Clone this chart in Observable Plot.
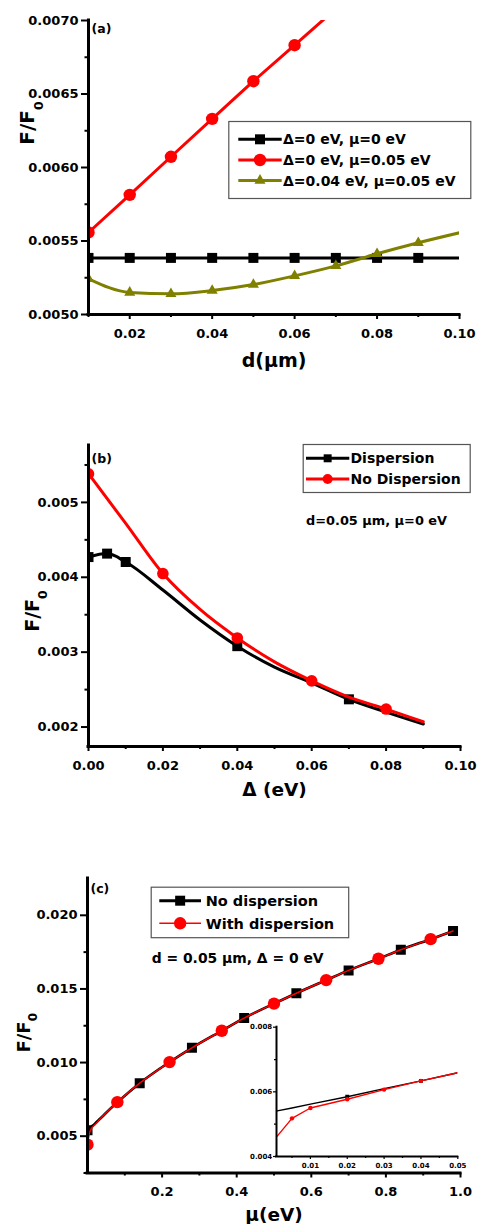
<!DOCTYPE html>
<html><head><meta charset="utf-8">
<script src="https://cdn.jsdelivr.net/npm/d3@7"></script>
<script src="https://cdn.jsdelivr.net/npm/@observablehq/plot@0.6"></script>
<style>
body{margin:0;background:#fff;}
#root{position:relative;width:477px;height:1224px;overflow:hidden;background:#fff;}
</style></head><body><div id="root"></div>
<script>
// ---------- data ----------
// panel (a): F/F0 vs d (um)
const A_D = [0.01,0.02,0.03,0.04,0.05,0.06,0.07,0.08,0.09,0.10];
const A_ZERO_Y = [0.005385,0.005385,0.005385,0.005385,0.005385,0.005385,0.005385,0.005385,0.005385,0.005385];
const A_ZERO_MARK = [0.01,0.02,0.03,0.04,0.05,0.06,0.07,0.08,0.09];
const A_RED_D = [0.01,0.02,0.03,0.04,0.05,0.06,0.07];
const A_RED_Y = [0.005558,0.005814,0.006073,0.006331,0.006587,0.006832,0.00708];
const A_RED_MARK = [0.01,0.02,0.03,0.04,0.05,0.06,0.07];
const A_OLIVE_Y = [0.005243,0.00515,0.005141,0.005163,0.005204,0.005263,0.005331,0.005413,0.005488,0.005556];
const A_OLIVE_MARK = [0.01,0.02,0.03,0.04,0.05,0.06,0.07,0.08,0.09];
const A_LABELS = ["Δ=0 eV, μ=0 eV","Δ=0 eV, μ=0.05 eV","Δ=0.04 eV, μ=0.05 eV"];
const A_X_MAJOR = [0.02,0.04,0.06,0.08,0.10];
const A_X_MINOR = [0.01,0.03,0.05,0.07,0.09];
const A_Y_MAJOR = [0.0050,0.0055,0.0060,0.0065,0.0070];
const A_Y_MINOR = [0.00525,0.00575,0.00625,0.00675];

// panel (b): F/F0 vs Delta (eV)
const B_DISP_X = [0,0.005,0.01,0.02,0.03,0.04,0.05,0.06,0.07,0.08,0.09];
const B_DISP_Y = [0.00427,0.004316,0.004204,0.00383,0.00343,0.00308,0.0028,0.00259,0.00237,0.0022,0.00204];
const B_DISP_MARK = [0,0.005,0.01,0.04,0.07];
const B_NODISP_X = [0,0.01,0.02,0.03,0.04,0.05,0.06,0.07,0.08,0.09];
const B_NODISP_Y = [0.005383,0.00472,0.00405,0.00357,0.00319,0.00287,0.002617,0.0024,0.00224,0.00207];
const B_NODISP_MARK = [0,0.02,0.04,0.06,0.08];
const B_LABELS = ["Dispersion","No Dispersion"];
const B_NOTE = "d=0.05 μm, μ=0 eV";
const B_X_MAJOR = [0,0.02,0.04,0.06,0.08,0.10];
const B_X_MINOR = [0.01,0.03,0.05,0.07,0.09];
const B_Y_MAJOR = [0.002,0.003,0.004,0.005];
const B_Y_MINOR = [0.0025,0.0035,0.0045,0.0055];

// panel (c): F/F0 vs mu (eV)
const C_MU = [0,0.005,0.01,0.02,0.03,0.04,0.05,0.08,0.14,0.22,0.28,0.36,0.42,0.50,0.56,0.64,0.70,0.78,0.84,0.92,0.98];
const C_NODISP_Y = [0.00541,0.00552,0.00563,0.00585,0.0061,0.00634,0.00659,0.0073,0.0086,0.01003,0.0110,0.01216,0.01302,0.0140,0.01471,0.0156,0.01626,0.01705,0.01766,0.01838,0.01893];
const C_WITH_Y = [0.00442,0.00518,0.0055,0.00577,0.00607,0.00634,0.00659,0.00731,0.0086,0.01003,0.0110,0.01216,0.01302,0.0140,0.01471,0.0156,0.01626,0.01705,0.01766,0.01838,0.01893];
const C_NODISP_MARK = [0,0.14,0.28,0.42,0.56,0.70,0.84,0.98];
const C_WITH_MARK = [0,0.08,0.22,0.36,0.50,0.64,0.78,0.92];
const C_LABELS = ["No dispersion","With dispersion"];
const C_NOTE = "d = 0.05 μm, Δ = 0 eV";
const C_X_MAJOR = [0.2,0.4,0.6,0.8,1.0];
const C_X_MINOR = [0.1,0.3,0.5,0.7,0.9];
const C_Y_MAJOR = [0.005,0.010,0.015,0.020];
const C_Y_MINOR = [0.0025,0.0075,0.0125,0.0175];

// inset of (c)
const I_X = [0.001,0.005,0.01,0.02,0.03,0.04,0.05];
const I_NODISP_Y = [0.00541,0.00550,0.00562,0.00585,0.0061,0.00634,0.00659];
const I_WITH_Y = [0.00463,0.00518,0.0055,0.00577,0.00607,0.00634,0.00659];
const I_NODISP_MARK = [0.02,0.04];
const I_WITH_MARK = [0.005,0.01,0.02,0.03,0.04];
const I_X_MAJOR = [0.01,0.02,0.03,0.04,0.05];
const I_X_MINOR = [0.005,0.015,0.025,0.035,0.045];
const I_Y_MAJOR = [0.004,0.006,0.008];
const I_Y_MINOR = [0.005,0.007];

// ---------- helpers ----------
const FONT = '"DejaVu Sans", sans-serif';
const RED = "#ff0000", OLIVE = "#808000", BLACK = "#000000";
const pts = (xs, ys) => xs.map((x, i) => ({x, y: ys[i]}));
const pick = (data, keep) => data.filter(d => keep.some(k => Math.abs(k - d.x) < 1e-9));
const root = document.getElementById("root");

function panel(c) {
  const marks = [];
  for (const s of c.series) {
    marks.push(Plot.line(s.data, {x: "x", y: "y", stroke: s.color, strokeWidth: s.lw, curve: s.curve || "linear", clip: true}));
    if (s.marks) marks.push(Plot.dot(pick(s.data, s.marks), {x: "x", y: "y", symbol: s.symbol, r: s.r, fill: s.color, clip: true}));
  }
  marks.push(
    Plot.axisX(c.xMajor, {tickSize: c.xt, tickPadding: c.xp, tickFormat: c.xFmt, strokeWidth: c.tw, fontSize: c.fs, fontWeight: "bold", label: null}),
    Plot.axisX(c.xMinor, {tickSize: c.xtm, tickFormat: () => "", strokeWidth: c.tw, label: null}),
    Plot.axisY(c.yMajor, {tickSize: c.yt, tickPadding: c.yp, tickFormat: c.yFmt, strokeWidth: c.tw, fontSize: c.fs, fontWeight: "bold", label: null}),
    Plot.axisY(c.yMinor, {tickSize: c.ytm, tickFormat: () => "", strokeWidth: c.tw, label: null}),
    Plot.ruleX([c.xDomain[0]], {strokeWidth: c.aw, strokeLinecap: "square"}),
    Plot.ruleY([c.yDomain[0]], {strokeWidth: c.aw, strokeLinecap: "square"})
  );
  if (c.xTitle) marks.push(Plot.text([c.xTitle], {text: d => d, frameAnchor: "bottom", dy: c.xTitleDy, textAnchor: "middle", lineAnchor: "bottom", fontSize: c.xTitleSize, fontWeight: "bold"}));
  if (c.yTitle) marks.push(Plot.text([c.yTitle], {text: d => d, frameAnchor: "left", dx: c.yTitleDx, dy: c.yTitleDy, rotate: -90, textAnchor: "middle", lineAnchor: "bottom", fontSize: c.yTitleSize, fontWeight: "bold"}));
  if (c.tag) marks.push(Plot.text([c.tag], {text: d => d, frameAnchor: "top-left", dx: 3, dy: c.tagDy, textAnchor: "start", lineAnchor: "bottom", fontSize: c.tagSize, fontWeight: "bold"}));
  const svg = Plot.plot({
    width: c.width, height: c.height,
    marginTop: c.mt, marginBottom: c.mb, marginLeft: c.ml, marginRight: c.mr,
    x: {domain: c.xDomain}, y: {domain: c.yDomain},
    style: {position: "absolute", left: c.left + "px", top: c.top + "px", fontFamily: FONT, fontWeight: "bold", color: "black", background: "transparent", overflow: "visible", maxWidth: "none"},
    marks
  });
  // subscript in y title
  d3.select(svg).selectAll("text").each(function() {
    if (this.textContent === "F/F0") {
      this.textContent = "F/F";
      d3.select(this).append("tspan").attr("dy", c.subDy).attr("font-size", c.subSize).text("0");
    }
  });
  root.appendChild(svg);
  return svg;
}

const f = n => v => v.toFixed(n);

// panel (a)
panel({
  left: 0, top: 0, width: 477, height: 400, mt: 20, mb: 86, ml: 88, mr: 18,
  xDomain: [0.01, 0.10], yDomain: [0.005, 0.007],
  xMajor: A_X_MAJOR, xMinor: A_X_MINOR, yMajor: A_Y_MAJOR, yMinor: A_Y_MINOR,
  xFmt: f(2), yFmt: f(4), xt: 5, xp: 9, xtm: 3, yt: 7, yp: 3, ytm: 3.5, tw: 2, aw: 3, fs: 13,
  series: [
    {data: pts(A_D, A_ZERO_Y), marks: A_ZERO_MARK, color: BLACK, lw: 3, symbol: "square", r: 5.64},
    {data: pts(A_RED_D, A_RED_Y), marks: A_RED_MARK, color: RED, lw: 3, symbol: "circle", r: 6.2},
    {data: pts(A_D, A_OLIVE_Y), marks: A_OLIVE_MARK, color: OLIVE, lw: 3, symbol: "triangle", r: 4.1, curve: "monotone-x"}
  ],
  xTitle: "d(μm)", xTitleDy: 52, xTitleSize: 19,
  yTitle: "F/F0", yTitleDx: -55, yTitleDy: -44.5, yTitleSize: 20, subDy: 9, subSize: 12.5,
  tag: "(a)", tagDy: 12.5, tagSize: 12.5
});

// panel (b)
panel({
  left: 0, top: 400, width: 477, height: 450, mt: 45, mb: 104, ml: 88, mr: 17,
  xDomain: [0, 0.10], yDomain: [0.00174, 0.00576],
  xMajor: B_X_MAJOR, xMinor: B_X_MINOR, yMajor: B_Y_MAJOR, yMinor: B_Y_MINOR,
  xFmt: f(2), yFmt: f(3), xt: 5, xp: 9, xtm: 3, yt: 7, yp: 3, ytm: 3.5, tw: 2, aw: 3, fs: 13,
  series: [
    {data: pts(B_DISP_X, B_DISP_Y), marks: B_DISP_MARK, color: BLACK, lw: 3, symbol: "square", r: 5.64, curve: "monotone-x"},
    {data: pts(B_NODISP_X, B_NODISP_Y), marks: B_NODISP_MARK, color: RED, lw: 3, symbol: "circle", r: 5.8, curve: "monotone-x"}
  ],
  xTitle: "Δ (eV)", xTitleDy: 49, xTitleSize: 18.5,
  yTitle: "F/F0", yTitleDx: -50, yTitleDy: 15, yTitleSize: 19, subDy: 8.7, subSize: 12.5,
  tag: "(b)", tagDy: 17.5, tagSize: 12.5
});

// panel (c)
panel({
  left: 0, top: 850, width: 477, height: 374, mt: 28, mb: 51.5, ml: 87, mr: 17,
  xDomain: [0, 1.0], yDomain: [0.0025, 0.0225],
  xMajor: C_X_MAJOR, xMinor: C_X_MINOR, yMajor: C_Y_MAJOR, yMinor: C_Y_MINOR,
  xFmt: f(1), yFmt: f(3), xt: 5, xp: 9, xtm: 3, yt: 7, yp: 3, ytm: 3.5, tw: 2, aw: 3, fs: 13,
  series: [
    {data: pts(C_MU, C_NODISP_Y), marks: C_NODISP_MARK, color: BLACK, lw: 2.6, symbol: "square", r: 5.64, curve: "monotone-x"},
    {data: pts(C_MU, C_WITH_Y), marks: C_WITH_MARK, color: RED, lw: 1.5, symbol: "circle", r: 6.2, curve: "monotone-x"}
  ],
  xTitle: "μ(eV)", xTitleDy: 47.5, xTitleSize: 18.5,
  yTitle: "F/F0", yTitleDx: -58, yTitleDy: 7, yTitleSize: 18, subDy: 7.5, subSize: 12,
  tag: "(c)", tagDy: 14.5, tagSize: 12.5
});

// inset
panel({
  left: 236, top: 1016, width: 241, height: 165, mt: 10.7, mb: 25, ml: 40, mr: 19.7,
  xDomain: [0.0008, 0.05], yDomain: [0.004, 0.008],
  xMajor: I_X_MAJOR, xMinor: I_X_MINOR, yMajor: I_Y_MAJOR, yMinor: I_Y_MINOR,
  xFmt: f(2), yFmt: f(3), xt: 3, xp: 3.4, xtm: 2, yt: 3, yp: 1.3, ytm: 2, tw: 1.2, aw: 2, fs: 7,
  series: [
    {data: pts(I_X, I_NODISP_Y), marks: I_NODISP_MARK, color: BLACK, lw: 1.4, symbol: "square", r: 2.2},
    {data: pts(I_X, I_WITH_Y), marks: I_WITH_MARK, color: RED, lw: 1.4, symbol: "circle", r: 2.2}
  ]
});

// ---------- legends & notes (overlay) ----------
const ov = d3.select(root).append("svg").attr("width", 477).attr("height", 1224)
  .style("position", "absolute").style("left", 0).style("top", 0)
  .attr("font-family", FONT).attr("font-weight", "bold");

const SYM = {square: d3.symbolSquare, circle: d3.symbolCircle, triangle: d3.symbolTriangle};
function legend(box, rows) {
  ov.append("rect").attr("x", box.x + 0.5).attr("y", box.y + 0.5).attr("width", box.w).attr("height", box.h)
    .attr("fill", "white").attr("stroke", "#555").attr("stroke-width", 1.2);
  rows.forEach(r => {
    ov.append("line").attr("x1", box.lx1).attr("x2", box.lx2).attr("y1", r.y).attr("y2", r.y)
      .attr("stroke", r.color).attr("stroke-width", r.lw);
    ov.append("path").attr("d", d3.symbol(SYM[r.symbol], Math.PI * r.r * r.r)())
      .attr("transform", `translate(${(box.lx1 + box.lx2) / 2},${r.y})`).attr("fill", r.color);
    ov.append("text").attr("x", box.tx).attr("y", r.y + 0.36 * box.fs).attr("font-size", box.fs).text(r.label);
  });
}
legend({x: 228.3, y: 121, w: 242, h: 77, lx1: 238.3, lx2: 281.7, tx: 283, fs: 14}, [
  {y: 139.3, color: BLACK, lw: 3, symbol: "square", r: 5.64, label: A_LABELS[0]},
  {y: 160, color: RED, lw: 3, symbol: "circle", r: 6.2, label: A_LABELS[1]},
  {y: 180.5, color: OLIVE, lw: 3, symbol: "triangle", r: 4.1, label: A_LABELS[2]}
]);
legend({x: 302.7, y: 444, w: 167, h: 48, lx1: 306, lx2: 349.3, tx: 350.5, fs: 14}, [
  {y: 458.3, color: BLACK, lw: 3, symbol: "square", r: 4.5, label: B_LABELS[0]},
  {y: 479, color: RED, lw: 3, symbol: "circle", r: 5, label: B_LABELS[1]}
]);
legend({x: 150.7, y: 886.7, w: 197.5, h: 50.5, lx1: 159.3, lx2: 201, tx: 205.7, fs: 14.5}, [
  {y: 900.7, color: BLACK, lw: 3, symbol: "square", r: 5.64, label: C_LABELS[0]},
  {y: 923.3, color: RED, lw: 1.5, symbol: "circle", r: 6.2, label: C_LABELS[1]}
]);
ov.append("text").attr("x", 306).attr("y", 520 + 0.36 * 12.9).attr("font-size", 12.9).text(B_NOTE);
ov.append("text").attr("x", 151.7).attr("y", 958.3 + 0.36 * 13.9).attr("font-size", 13.9).text(C_NOTE);
</script></body></html>
